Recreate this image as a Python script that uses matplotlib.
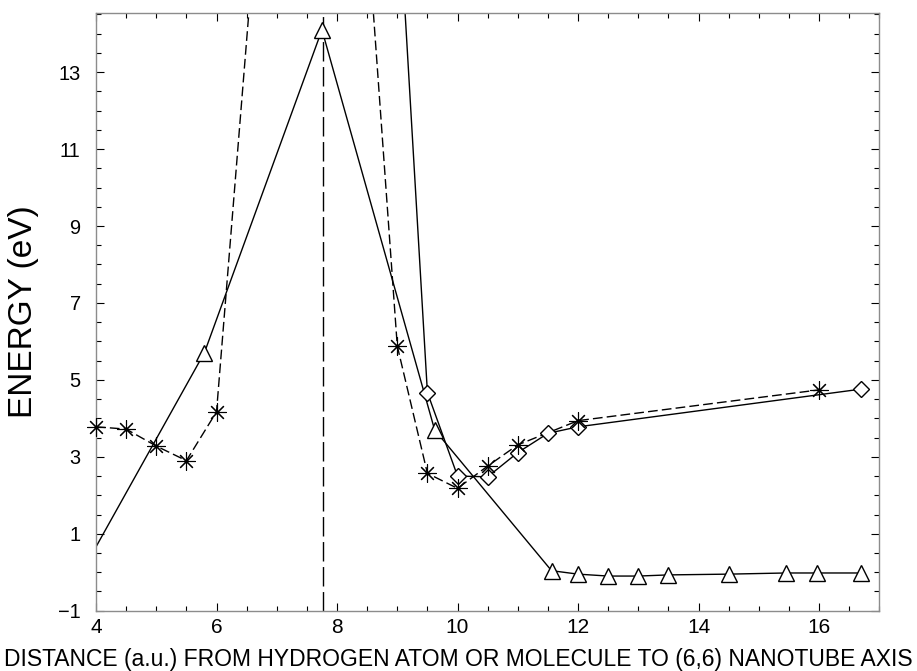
import numpy as np
import matplotlib.pyplot as plt
from matplotlib.ticker import MultipleLocator, FixedLocator

plt.rcParams['font.family'] = ['Liberation Sans', 'DejaVu Sans']

# solid line, open triangles (first point has no symbol, it sits on the frame)
tri_x = [4.0, 5.8, 7.75, 9.62, 11.56, 12.0, 12.5, 13.0, 13.5, 14.5, 15.45, 15.97, 16.69]
tri_y = [0.66, 5.71, 14.1, 3.70, 0.04, -0.05, -0.10, -0.10, -0.07, -0.05, -0.02, -0.02, -0.02]

# dashed line, asterisks (two branches, both leave the top of the frame)
ast_left_x = [4.0, 4.5, 5.0, 5.5, 6.0, 7.0]
ast_left_y = [3.78, 3.72, 3.28, 2.90, 4.17, 23.5]
ast_right_x = [8.5, 9.0, 9.5, 10.0, 10.5, 11.0, 12.0, 16.0]
ast_right_y = [16.8, 5.88, 2.57, 2.18, 2.76, 3.31, 3.94, 4.74]

# solid line, open diamonds
dia_x = [9.0, 9.5, 10.0, 10.5, 11.0, 11.5, 12.0, 16.7]
dia_y = [18.0, 4.67, 2.50, 2.48, 3.11, 3.61, 3.78, 4.76]

# long-dashed vertical marker line
vline_x = 7.76

x_min, x_max = 4, 17
y_min, y_max = -1, 14.53

asterisk = (8, 2, 0)


def draw_series(ax, x, y, dashes, marker, ms, mew=1.0, skip_first=False):
    x = np.asarray(x)
    y = np.asarray(y)
    line, = ax.plot(x, y, color='black', lw=1.0)
    if dashes is not None:
        line.set_dashes(dashes)
    keep = (y >= y_min) & (y <= y_max)
    if skip_first:
        keep[0] = False
    ax.plot(x[keep], y[keep], ls='none', marker=marker, ms=ms,
            mfc='white', mec='black', mew=mew, clip_on=False, zorder=3)


fig = plt.figure(figsize=(9.17, 6.71), dpi=100)
ax = fig.add_axes([0.1047, 0.0899, 0.8542, 0.8903])

ax.axvline(vline_x, color='black', lw=1.0, dashes=(14, 4))

draw_series(ax, tri_x, tri_y, None, '^', 11, skip_first=True)
draw_series(ax, dia_x, dia_y, None, 'D', 8)
draw_series(ax, ast_left_x, ast_left_y, (7, 3), asterisk, 13, mew=0.8)
draw_series(ax, ast_right_x, ast_right_y, (7, 3), asterisk, 13, mew=0.8)

ax.set_xlim(x_min, x_max)
ax.set_ylim(y_min, y_max)

ax.xaxis.set_major_locator(FixedLocator(np.arange(4, 17, 2)))
ax.xaxis.set_minor_locator(MultipleLocator(0.5))
ax.yaxis.set_major_locator(FixedLocator(np.arange(-1, 14, 2)))
ax.yaxis.set_minor_locator(MultipleLocator(0.5))

ax.tick_params(which='both', direction='in', top=True, right=True,
               color='black', width=0.8)
ax.tick_params(which='major', length=6)
ax.tick_params(which='minor', length=3.5)
ax.tick_params(axis='y', which='major', pad=11, labelsize=14.4)
ax.tick_params(axis='x', which='major', pad=5, labelsize=15)

for sp in ax.spines.values():
    sp.set_color('0.55')
    sp.set_linewidth(1.0)

fig.text(0.5, 0.008,
         'DISTANCE (a.u.) FROM HYDROGEN ATOM OR MOLECULE TO (6,6) NANOTUBE AXIS',
         fontsize=16.5, ha='center', va='baseline')
ax.set_ylabel('ENERGY (eV)', fontsize=24, labelpad=14)

fig.savefig('out.png', dpi=100)
